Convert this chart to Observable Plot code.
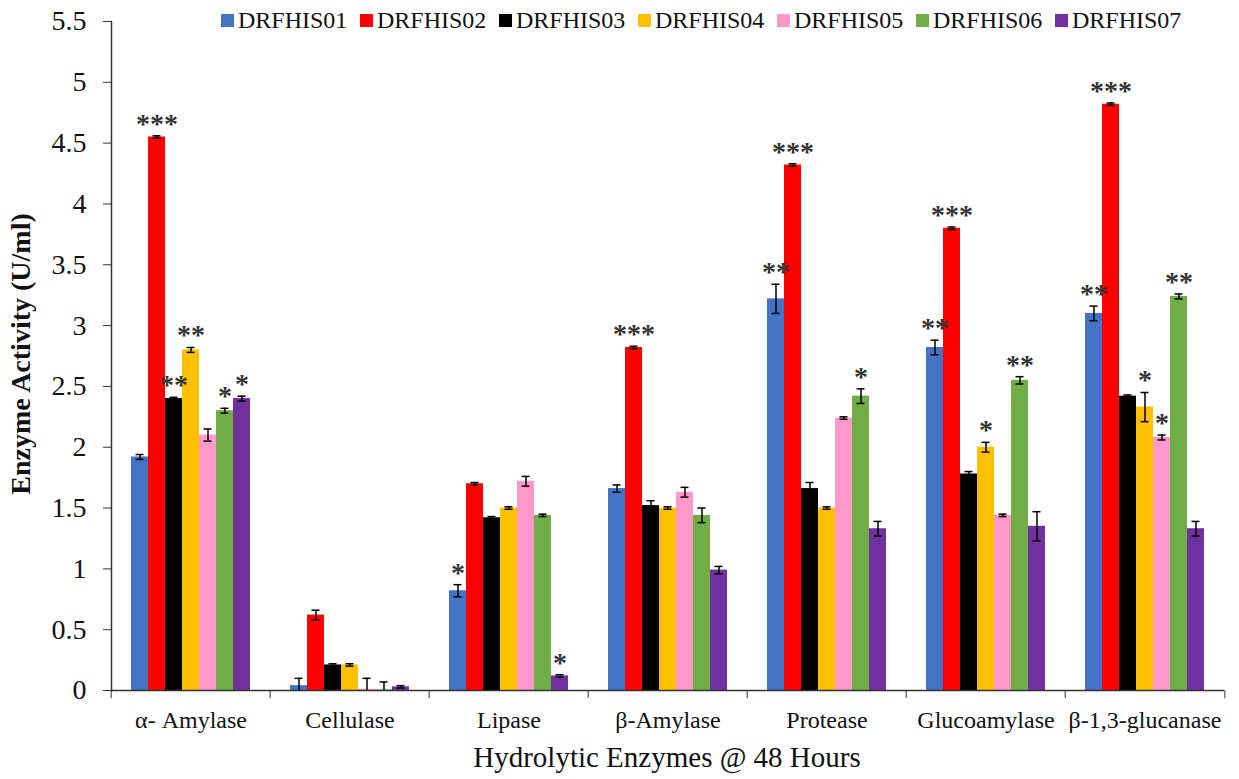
<!DOCTYPE html>
<html><head><meta charset="utf-8">
<script src="https://cdn.jsdelivr.net/npm/d3@7"></script>
<script src="https://cdn.jsdelivr.net/npm/@observablehq/plot@0.6"></script>
<style>
body{margin:0;background:#fff;}
#wrap{position:relative;width:1239px;height:779px;overflow:hidden;}
#legend{position:absolute;left:221px;top:5px;display:flex;font-family:"Liberation Serif","Times New Roman",serif;font-size:24px;color:#111;line-height:30px;}
.item{display:flex;align-items:center;width:139px;white-space:nowrap;}
.sw{width:13px;height:13px;margin-right:4px;flex:none;}
</style></head><body>
<div id="wrap"><div id="chart"></div><div id="legend"></div></div>
<script>
const groups = ["α- Amylase", "Cellulase", "Lipase", "β-Amylase", "Protease", "Glucoamylase", "β-1,3-glucanase"];
const series = ["DRFHIS01", "DRFHIS02", "DRFHIS03", "DRFHIS04", "DRFHIS05", "DRFHIS06", "DRFHIS07"];
const colors = ["#4472C4", "#FF0000", "#000000", "#FFC000", "#FF99CC", "#70AD47", "#7030A0"];

// mean activity per series, in group order
const DRFHIS01 = [1.92, 0.04, 0.82, 1.66, 3.22, 2.82, 3.10];
const DRFHIS02 = [4.55, 0.62, 1.70, 2.82, 4.32, 3.80, 4.82];
const DRFHIS03 = [2.40, 0.21, 1.42, 1.52, 1.66, 1.78, 2.42];
const DRFHIS04 = [2.80, 0.21, 1.50, 1.50, 1.50, 2.00, 2.33];
const DRFHIS05 = [2.10, 0.01, 1.72, 1.63, 2.24, 1.44, 2.08];
const DRFHIS06 = [2.30, 0.005, 1.44, 1.44, 2.42, 2.55, 3.24];
const DRFHIS07 = [2.40, 0.03, 0.12, 0.99, 1.33, 1.35, 1.33];

// error (± SD) per series
const err01 = [0.02, 0.06, 0.05, 0.03, 0.12, 0.06, 0.06];
const err02 = [0.01, 0.04, 0.01, 0.01, 0.01, 0.01, 0.01];
const err03 = [0.01, 0.01, 0.01, 0.04, 0.05, 0.02, 0.01];
const err04 = [0.02, 0.01, 0.01, 0.01, 0.01, 0.04, 0.12];
const err05 = [0.05, 0.09, 0.04, 0.04, 0.01, 0.01, 0.02];
const err06 = [0.02, 0.065, 0.01, 0.06, 0.06, 0.03, 0.02];
const err07 = [0.02, 0.01, 0.01, 0.03, 0.06, 0.12, 0.06];

// significance marks per series
const sig01 = ["", "", "*", "", "**", "**", "**"];
const sig02 = ["***", "", "", "***", "***", "***", "***"];
const sig03 = ["**", "", "", "", "", "", ""];
const sig04 = ["**", "", "", "", "", "*", "*"];
const sig05 = ["", "", "", "", "", "", "*"];
const sig06 = ["*", "", "", "", "*", "**", "**"];
const sig07 = ["*", "", "*", "", "", "", ""];

const yTicks = [0, 0.5, 1, 1.5, 2, 2.5, 3, 3.5, 4, 4.5, 5, 5.5];

const values = [DRFHIS01, DRFHIS02, DRFHIS03, DRFHIS04, DRFHIS05, DRFHIS06, DRFHIS07];
const errors = [err01, err02, err03, err04, err05, err06, err07];
const sigs = [sig01, sig02, sig03, sig04, sig05, sig06, sig07];

const rows = [];
series.forEach((s, si) => groups.forEach((g, gi) => rows.push({
  group: g, series: s, value: values[si][gi], err: errors[si][gi], star: sigs[si][gi]
})));

const W = 1239, H = 779, mL = 108, mR = 13, mT = 21, mB = 89;
const step = (W - mL - mR) / groups.length;
const axisColor = "#333";
const serif = "'Liberation Serif', 'Times New Roman', serif";

const plot = Plot.plot({
  width: W, height: H,
  marginLeft: mL, marginRight: mR, marginTop: mT, marginBottom: mB,
  style: {fontFamily: serif, background: "white", color: "#111", overflow: "visible"},
  fx: {domain: groups, padding: 0, label: null},
  x: {domain: series, paddingInner: 0, paddingOuter: 1.11, axis: null},
  y: {domain: [0, 5.5]},
  color: {domain: series, range: colors},
  marks: [
    Plot.barY(rows, {fx: "group", x: "series", y: "value", fill: "series"}),
    Plot.ruleX(rows, {fx: "group", x: "series", y1: d => d.value - d.err, y2: d => d.value + d.err, stroke: "#000", strokeWidth: 1.5, clip: true}),
    Plot.tickY(rows, {fx: "group", x: "series", y: d => d.value + d.err, insetLeft: 4.5, insetRight: 4.5, stroke: "#000", strokeWidth: 1.5, clip: true}),
    Plot.tickY(rows, {fx: "group", x: "series", y: d => d.value - d.err, insetLeft: 4.5, insetRight: 4.5, stroke: "#000", strokeWidth: 1.5, clip: true}),
    Plot.text(rows.filter(d => d.star), {fx: "group", x: "series", y: d => d.value + d.err, text: "star", dy: -12, fontSize: 28, fontWeight: "bold", fill: "#333"}),
    Plot.ruleY([0], {stroke: axisColor, strokeWidth: 1.5}),
    Plot.frame({anchor: "left", facetAnchor: "left", stroke: axisColor, strokeWidth: 1.5}),
    Plot.axisY({ticks: yTicks, tickFormat: d => String(d), tickSize: 8, tickPadding: 17, fontSize: 28, label: null, anchor: "left", stroke: axisColor}),
    Plot.axisFx({anchor: "bottom", tickSize: 0, tickPadding: 20, fontSize: 24, label: null}),
    Plot.axisFx({anchor: "bottom", tickSize: 8, text: null, dx: -step / 2, label: null, stroke: axisColor}),
    Plot.axisFx({anchor: "bottom", ticks: [groups[groups.length - 1]], tickSize: 8, text: null, dx: step / 2, label: null, stroke: axisColor})
  ]
});

const svg = d3.select(plot);
svg.append("text")
  .attr("transform", `translate(${24},${354}) rotate(-90)`)
  .attr("text-anchor", "middle").attr("dominant-baseline", "middle")
  .attr("font-family", serif).attr("font-weight", "bold").attr("font-size", 28)
  .attr("fill", "#111")
  .text("Enzyme Activity (U/ml)");
svg.append("text")
  .attr("x", mL + (W - mL - mR) / 2).attr("y", 767)
  .attr("text-anchor", "middle")
  .attr("font-family", serif).attr("font-size", 29)
  .attr("fill", "#111")
  .text("Hydrolytic Enzymes @ 48 Hours");

document.getElementById("chart").appendChild(plot);

const legend = document.getElementById("legend");
series.forEach((s, i) => {
  const item = document.createElement("div");
  item.className = "item";
  const sw = document.createElement("span");
  sw.className = "sw";
  sw.style.background = colors[i];
  const t = document.createElement("span");
  t.textContent = s;
  item.appendChild(sw); item.appendChild(t);
  legend.appendChild(item);
});
</script>
</body></html>
